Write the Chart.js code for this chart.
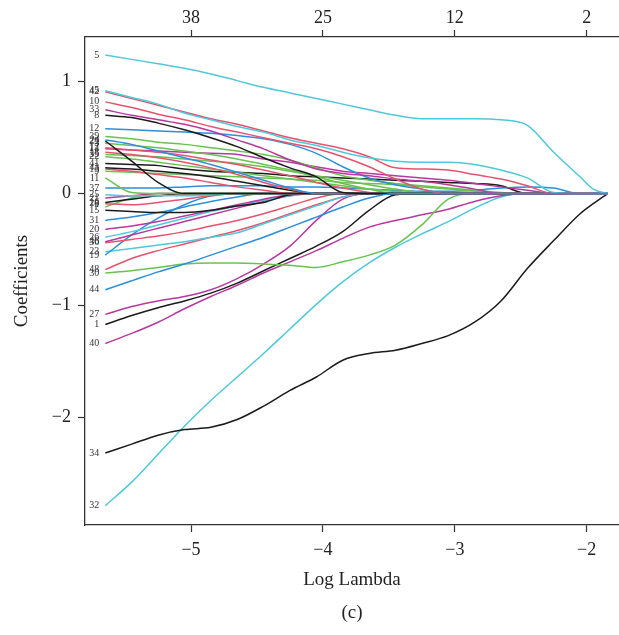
<!DOCTYPE html>
<html>
<head>
<meta charset="utf-8">
<script src="https://cdn.jsdelivr.net/npm/chart.js@4"></script>
<style>
  html, body { margin: 0; padding: 0; background: #fff; overflow: hidden; }
  #wrap { width: 619px; height: 635px; }
</style>
</head>
<body>
<div id="wrap"><canvas id="chart" width="619" height="635"></canvas></div>
<script>
// log(lambda) grid the paths are read at
const logLambda = [-5.65, -5.45, -5.25, -5.05, -4.85, -4.65, -4.45, -4.25, -4.05, -3.85, -3.65,
                   -3.45, -3.25, -3.05, -2.85, -2.65, -2.45, -2.25, -2.05, -1.95, -1.84];

// axis ticks
const bottomTicks = [-5, -4, -3, -2];
const topCounts = [38, 25, 12, 2];
const yTicks = [-2, -1, 0, 1];

// coefficient paths (one value per logLambda)
const c5  = [1.24, 1.20, 1.16, 1.12, 1.07, 1.01, 0.95, 0.90, 0.85, 0.80, 0.75, 0.70, 0.67, 0.67, 0.67, 0.66, 0.61, 0.37, 0.15, 0.04, 0];
const c45 = [0.92, 0.86, 0.80, 0.72, 0.66, 0.60, 0.55, 0.48, 0.43, 0.37, 0.32, 0.29, 0.28, 0.28, 0.26, 0.21, 0.14, 0.01, 0, 0, 0];
const c42 = [0.91, 0.85, 0.79, 0.73, 0.67, 0.62, 0.56, 0.50, 0.45, 0.40, 0.33, 0.23, 0.22, 0.21, 0.17, 0.13, 0.07, 0, 0, 0, 0];
const c10 = [0.82, 0.77, 0.71, 0.66, 0.60, 0.55, 0.50, 0.45, 0.40, 0.33, 0.24, 0.13, 0.04, 0, 0, 0, 0, 0, 0, 0, 0];
const c33 = [0.75, 0.70, 0.66, 0.62, 0.56, 0.48, 0.40, 0.30, 0.22, 0.18, 0.16, 0.13, 0.11, 0.08, 0.04, 0, 0, 0, 0, 0, 0];
const c8  = [0.70, 0.68, 0.63, 0.57, 0.50, 0.42, 0.32, 0.23, 0.15, 0.01, 0, 0, 0, 0, 0, 0, 0, 0, 0, 0, 0];
const c12 = [0.58, 0.57, 0.56, 0.55, 0.54, 0.52, 0.49, 0.44, 0.36, 0.24, 0.14, 0.08, 0.04, 0, 0, 0, 0, 0, 0, 0, 0];
const c39 = [0.51, 0.49, 0.46, 0.44, 0.41, 0.38, 0.35, 0.30, 0.23, 0.16, 0.12, 0.09, 0.07, 0.05, 0.03, 0.01, 0, 0, 0, 0, 0];
const c24 = [0.48, 0.44, 0.38, 0.32, 0.26, 0.19, 0.12, 0.05, 0, 0, 0, 0, 0, 0, 0, 0, 0, 0, 0, 0, 0];
const c29 = [0.47, 0.29, 0.10, 0, 0, 0, 0, 0, 0, 0, 0, 0, 0, 0, 0, 0, 0, 0, 0, 0, 0];
const c3  = [0.45, 0.43, 0.41, 0.38, 0.35, 0.31, 0.26, 0.21, 0.15, 0.09, 0.04, 0, 0, 0, 0, 0, 0, 0, 0, 0, 0];
const c17 = [0.41, 0.39, 0.37, 0.34, 0.30, 0.26, 0.21, 0.16, 0.10, 0.05, 0.01, 0, 0, 0, 0, 0, 0, 0, 0, 0, 0];
const c14 = [0.40, 0.39, 0.38, 0.37, 0.36, 0.35, 0.31, 0.28, 0.24, 0.20, 0.18, 0.16, 0.14, 0.12, 0.09, 0.06, 0.03, 0, 0, 0, 0];
const c18 = [0.37, 0.35, 0.32, 0.28, 0.23, 0.17, 0.10, 0.04, 0, 0, 0, 0, 0, 0, 0, 0, 0, 0, 0, 0, 0];
const c35 = [0.35, 0.34, 0.33, 0.31, 0.29, 0.27, 0.24, 0.20, 0.16, 0.12, 0.08, 0.04, 0.01, 0, 0, 0, 0, 0, 0, 0, 0];
const c22 = [0.33, 0.31, 0.28, 0.25, 0.22, 0.19, 0.16, 0.13, 0.10, 0.07, 0.04, 0.02, 0, 0, 0, 0, 0, 0, 0, 0, 0];
const c41 = [0.27, 0.26, 0.25, 0.22, 0.20, 0.19, 0.18, 0.16, 0.15, 0.14, 0.13, 0.12, 0.11, 0.10, 0.09, 0.07, 0, 0, 0, 0, 0];
const c43 = [0.23, 0.22, 0.20, 0.18, 0.15, 0.11, 0.07, 0.03, 0, 0, 0, 0, 0, 0, 0, 0, 0, 0, 0, 0, 0];
const c13 = [0.22, 0.20, 0.17, 0.14, 0.10, 0.06, 0.03, 0, 0, 0, 0, 0, 0, 0, 0, 0, 0, 0, 0, 0, 0];
const c9  = [0.20, 0.19, 0.18, 0.17, 0.16, 0.15, 0.14, 0.13, 0.12, 0.10, 0.09, 0.08, 0.06, 0.04, 0.02, 0, 0, 0, 0, 0, 0];
const c11 = [0.14, 0.01, 0, 0, 0, 0, 0, 0, 0, 0, 0, 0, 0, 0, 0, 0, 0, 0, 0, 0, 0];
const c37 = [0.05, 0.05, 0.05, 0.06, 0.07, 0.07, 0.07, 0.06, 0.06, 0.05, 0.04, 0.03, 0.02, 0.02, 0.03, 0.05, 0.06, 0.05, 0, 0, 0];
const c25 = [-0.01, -0.02, -0.02, -0.02, -0.01, 0, 0, 0, 0, 0, 0, 0, 0, 0, 0, 0, 0, 0, 0, 0, 0];
const c21 = [-0.04, -0.02, 0, 0, 0, 0, 0, 0, 0, 0, 0, 0, 0, 0, 0, 0, 0, 0, 0, 0, 0];
const c16 = [-0.08, -0.05, -0.02, 0, 0, 0, 0, 0, 0, 0, 0, 0, 0, 0, 0, 0, 0, 0, 0, 0, 0];
const c28 = [-0.09, -0.10, -0.08, -0.05, -0.02, 0, 0, 0, 0, 0, 0, 0, 0, 0, 0, 0, 0, 0, 0, 0, 0];
const c15 = [-0.15, -0.16, -0.17, -0.17, -0.15, -0.11, -0.08, -0.01, 0, 0, 0, 0, 0, 0, 0, 0, 0, 0, 0, 0, 0];
const c7  = [-0.12, -0.04, 0, 0, 0, 0, 0, 0, 0, 0, 0, 0, 0, 0, 0, 0, 0, 0, 0, 0, 0];
const c31 = [-0.24, -0.21, -0.17, -0.12, -0.07, -0.03, 0, 0, 0, 0, 0, 0, 0, 0, 0, 0, 0, 0, 0, 0, 0];
const c20 = [-0.32, -0.29, -0.25, -0.20, -0.15, -0.10, -0.05, -0.01, 0, 0, 0, 0, 0, 0, 0, 0, 0, 0, 0, 0, 0];
const c26 = [-0.39, -0.34, -0.28, -0.22, -0.16, -0.11, -0.06, -0.02, 0, 0, 0, 0, 0, 0, 0, 0, 0, 0, 0, 0, 0];
const c46 = [-0.43, -0.37, -0.31, -0.25, -0.19, -0.13, -0.07, -0.02, 0, 0, 0, 0, 0, 0, 0, 0, 0, 0, 0, 0, 0];
const c36 = [-0.44, -0.41, -0.38, -0.34, -0.29, -0.24, -0.18, -0.11, -0.04, 0, 0, 0, 0, 0, 0, 0, 0, 0, 0, 0, 0];
const c19 = [-0.55, -0.37, -0.22, -0.10, -0.02, 0, 0, 0, 0, 0, 0, 0, 0, 0, 0, 0, 0, 0, 0, 0, 0];
const c23 = [-0.52, -0.49, -0.46, -0.43, -0.39, -0.35, -0.27, -0.19, -0.11, -0.03, 0, 0, 0, 0, 0, 0, 0, 0, 0, 0, 0];
const c48 = [-0.68, -0.58, -0.51, -0.45, -0.39, -0.33, -0.26, -0.18, -0.10, -0.03, 0, 0, 0, 0, 0, 0, 0, 0, 0, 0, 0];
const c30 = [-0.71, -0.69, -0.66, -0.63, -0.62, -0.62, -0.63, -0.64, -0.66, -0.61, -0.55, -0.46, -0.28, -0.05, 0, 0, 0, 0, 0, 0, 0];
const c44 = [-0.86, -0.78, -0.70, -0.63, -0.55, -0.47, -0.39, -0.30, -0.21, -0.12, -0.04, 0, 0, 0, 0, 0, 0, 0, 0, 0, 0];
const c27 = [-1.08, -1.01, -0.96, -0.92, -0.86, -0.76, -0.63, -0.47, -0.24, -0.05, 0, 0, 0, 0, 0, 0, 0, 0, 0, 0, 0];
const c1  = [-1.17, -1.09, -1.02, -0.96, -0.89, -0.80, -0.69, -0.58, -0.47, -0.34, -0.15, -0.01, 0, 0, 0, 0, 0, 0, 0, 0, 0];
const c40 = [-1.34, -1.25, -1.15, -1.03, -0.92, -0.82, -0.71, -0.61, -0.51, -0.40, -0.30, -0.24, -0.19, -0.14, -0.07, -0.02, 0, 0, 0, 0, 0];
const c34 = [-2.32, -2.24, -2.16, -2.11, -2.09, -2.02, -1.90, -1.76, -1.64, -1.49, -1.43, -1.40, -1.34, -1.27, -1.15, -0.96, -0.67, -0.42, -0.18, -0.09, 0];
const c32 = [-2.79, -2.58, -2.33, -2.08, -1.85, -1.64, -1.43, -1.21, -0.99, -0.79, -0.62, -0.48, -0.36, -0.25, -0.13, -0.03, 0, 0, 0, 0, 0];

const paths = [
  ['5', c5, 'cyan'], ['45', c45, 'cyan'], ['42', c42, 'red'], ['10', c10, 'red'],
  ['33', c33, 'magenta'], ['8', c8, 'black'], ['12', c12, 'blue'], ['39', c39, 'green'],
  ['24', c24, 'blue'], ['29', c29, 'black'], ['3', c3, 'green'], ['17', c17, 'red'],
  ['14', c14, 'magenta'], ['18', c18, 'red'], ['35', c35, 'green'], ['22', c22, 'green'],
  ['41', c41, 'black'], ['43', c43, 'black'], ['13', c13, 'red'], ['9', c9, 'green'],
  ['11', c11, 'green'], ['37', c37, 'blue'], ['25', c25, 'cyan'], ['21', c21, 'magenta'],
  ['16', c16, 'black'], ['28', c28, 'red'], ['15', c15, 'black'], ['7', c7, 'green'],
  ['31', c31, 'blue'], ['20', c20, 'magenta'], ['26', c26, 'cyan'], ['46', c46, 'magenta'],
  ['36', c36, 'red'], ['19', c19, 'blue'], ['23', c23, 'cyan'], ['48', c48, 'red'],
  ['30', c30, 'green'], ['44', c44, 'blue'], ['27', c27, 'magenta'], ['1', c1, 'black'],
  ['40', c40, 'magenta'], ['34', c34, 'black'], ['32', c32, 'cyan']
];

const palette = {
  black: '#1b1b1b', red: '#E5536F', green: '#68C24F',
  blue: '#2A8FDC', cyan: '#4FC8D9', magenta: '#B9389F'
};

const FONT = '"Liberation Serif", "DejaVu Serif", serif';
const minus = v => String(v).replace('-', '\u2212');

// number labels at the left end of each path
const pathLabels = {
  id: 'pathLabels',
  afterDatasetsDraw(chart) {
    const { ctx, scales: { x, y } } = chart;
    ctx.save();
    ctx.font = '10px ' + FONT;
    ctx.fillStyle = '#333';
    ctx.textAlign = 'right';
    ctx.textBaseline = 'middle';
    chart.data.datasets.forEach(ds => {
      const p = ds.data[0];
      ctx.fillText(ds.label, x.getPixelForValue(p.x) - 6, y.getPixelForValue(p.y));
    });
    ctx.restore();
  }
};

const axisGrid = { drawOnChartArea: false, drawTicks: true, tickLength: 7, tickColor: '#333', tickWidth: 1.2 };
const axisBorder = { display: true, color: '#333', width: 1.3 };
const tickFont = { family: FONT, size: 18 };

const datasets = paths.map(([name, vals, col]) => ({
  label: name,
  data: logLambda.map((l, i) => ({ x: l, y: vals[i] })),
  borderColor: palette[col],
  borderWidth: 1.5,
  pointRadius: 0,
  fill: false,
  cubicInterpolationMode: 'monotone',
  order: name === '44' ? -1 : 0
}));

new Chart(document.getElementById('chart').getContext('2d'), {
  type: 'line',
  data: { datasets },
  options: {
    responsive: false,
    animation: false,
    layout: { padding: 0 },
    plugins: { legend: { display: false }, tooltip: { enabled: false } },
    scales: {
      x: {
        type: 'linear', position: 'bottom', min: -5.804, max: -1.755,
        afterBuildTicks: s => { s.ticks = bottomTicks.map(v => ({ value: v })); },
        afterFit: s => { s.height = 110; },
        grid: axisGrid, border: axisBorder,
        ticks: { padding: 7, color: '#222', font: tickFont, maxRotation: 0, callback: minus },
        title: {
          display: true, text: ['Log Lambda', '(c)'], color: '#222',
          font: { family: FONT, size: 19, lineHeight: 1.74 }, padding: { top: 0, bottom: 5 }
        }
      },
      x2: {
        type: 'linear', position: 'top', min: -5.804, max: -1.755,
        afterBuildTicks: s => { s.ticks = bottomTicks.map(v => ({ value: v })); },
        afterFit: s => { s.height = 37; },
        grid: axisGrid, border: axisBorder,
        ticks: { padding: 1, color: '#222', font: tickFont, maxRotation: 0,
                 callback: (v, i) => topCounts[i] }
      },
      y: {
        type: 'linear', position: 'left', min: -2.963, max: 1.400,
        afterBuildTicks: s => { s.ticks = yTicks.map(v => ({ value: v })); },
        afterFit: s => { s.width = 85; },
        grid: axisGrid, border: axisBorder,
        ticks: { padding: 7, color: '#222', font: tickFont, callback: minus },
        title: {
          display: true, text: 'Coefficients', color: '#222',
          font: { family: FONT, size: 19 }, padding: { top: 11 }
        }
      }
    }
  },
  plugins: [pathLabels]
});
</script>
</body>
</html>
